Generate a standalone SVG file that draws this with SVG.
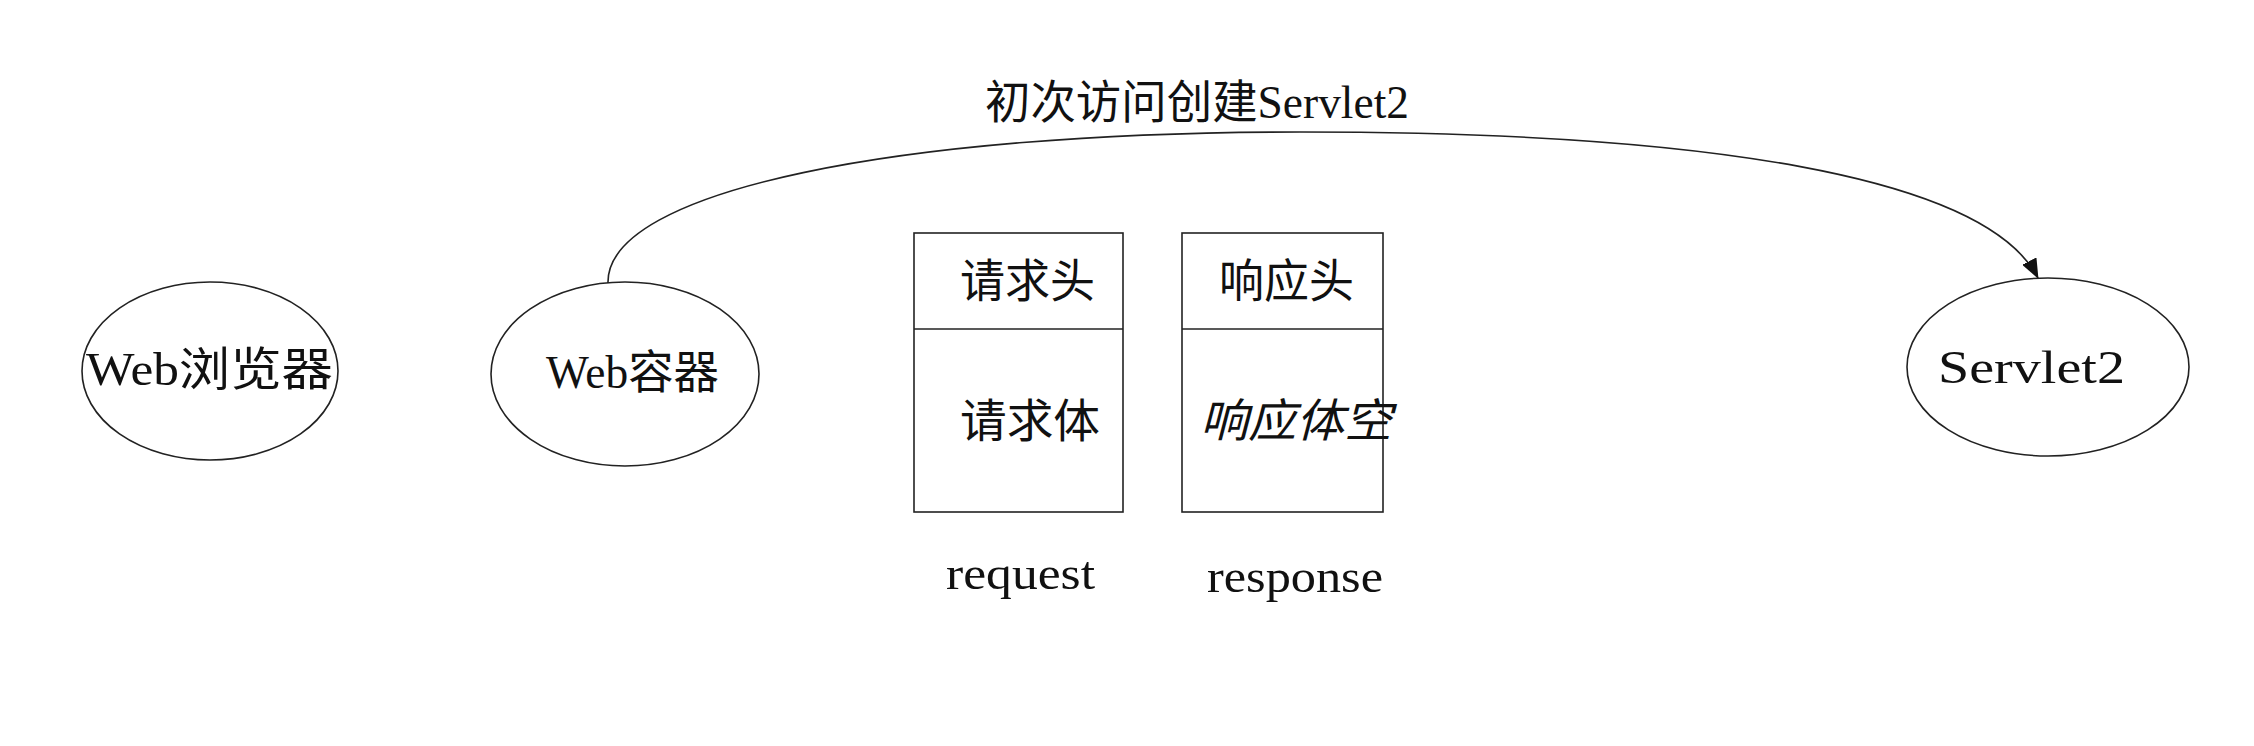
<svg xmlns="http://www.w3.org/2000/svg" width="2254" height="746" viewBox="0 0 2254 746">
<style>
.shape{fill:none;stroke:#222;stroke-width:1.6}
.t{font-family:"Liberation Serif","Noto Sans CJK SC",serif;font-size:46px;fill:#111}
.c{text-anchor:middle}
</style>
<defs>
<marker id="arr" viewBox="0 0 10 10" refX="9" refY="5" markerWidth="10" markerHeight="10" markerUnits="userSpaceOnUse" orient="auto">
<path d="M0,0 L10,5 L0,10 z" fill="#111"/>
</marker>
<marker id="arrBig" viewBox="0 0 20 16" refX="19" refY="8" markerWidth="20" markerHeight="16" markerUnits="userSpaceOnUse" orient="auto">
<path d="M0,0 L20,8 L0,16 z" fill="#111"/>
</marker>
</defs>
<rect width="2254" height="746" fill="#fff"/>
<g id="connectors">
<path class="shape" d="M608,283 C606,190 900,132 1300,132 C1700,132 1985,175 2038,278" marker-end="url(#arrBig)"/>
<text class="t" x="985" y="118" textLength="424" lengthAdjust="spacingAndGlyphs">初次访问创建Servlet2</text>
</g>
<g id="browser">
<ellipse class="shape" cx="210" cy="371" rx="128" ry="89"/>
<text class="t" x="86" y="385" textLength="247" lengthAdjust="spacingAndGlyphs">Web浏览器</text>
</g>
<g id="container">
<ellipse class="shape" cx="625" cy="374" rx="134" ry="92"/>
<text class="t" x="546" y="388" textLength="173" lengthAdjust="spacingAndGlyphs">Web容器</text>
</g>
<g id="request">
<rect class="shape" x="914" y="233" width="209" height="279"/>
<line class="shape" x1="914" y1="329" x2="1123" y2="329"/>
<text class="t" x="960" y="297" textLength="135" lengthAdjust="spacingAndGlyphs">请求头</text>
<text class="t" x="960" y="437" textLength="140" lengthAdjust="spacingAndGlyphs">请求体</text>
<text class="t" x="946" y="589" textLength="149" lengthAdjust="spacingAndGlyphs">request</text>
</g>
<g id="response">
<rect class="shape" x="1182" y="233" width="201" height="279"/>
<line class="shape" x1="1182" y1="329" x2="1383" y2="329"/>
<text class="t" x="1219" y="297" textLength="135" lengthAdjust="spacingAndGlyphs">响应头</text>
<text class="t" x="1200" y="437" textLength="192" lengthAdjust="spacingAndGlyphs" font-style="italic">响应体空</text>
<text class="t" x="1207" y="592" textLength="176" lengthAdjust="spacingAndGlyphs">response</text>
</g>
<g id="servlet2">
<ellipse class="shape" cx="2048" cy="367" rx="141" ry="89"/>
<text class="t" x="1938" y="383" textLength="187" lengthAdjust="spacingAndGlyphs">Servlet2</text>
</g>
</svg>
